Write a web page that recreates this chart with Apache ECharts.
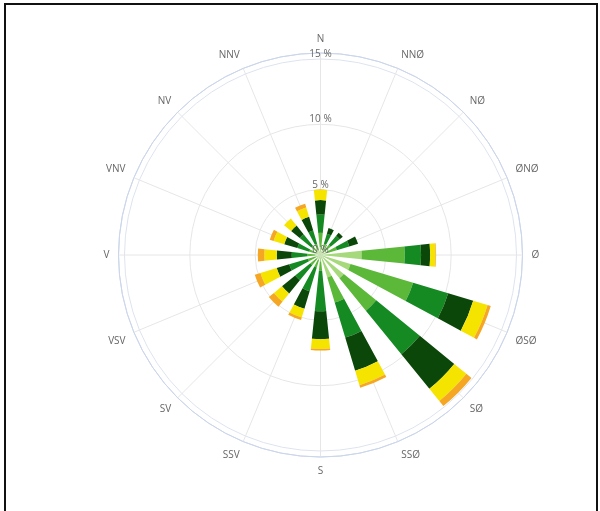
<!DOCTYPE html>
<html>
<head>
<meta charset="utf-8">
<script src="https://cdn.jsdelivr.net/npm/echarts@6/dist/echarts.min.js"></script>
<style>
html,body{margin:0;padding:0;background:#fff;overflow:hidden;}
#frame{position:absolute;left:4px;top:3px;width:590px;height:520px;border:2px solid #111;border-bottom:none;}
#chart{position:absolute;left:0;top:0;width:600px;height:511px;}
</style>
</head>
<body>
<div id="frame"></div>
<div id="chart"></div>
<script>
const directions = ['N','NNØ','NØ','ØNØ','Ø','ØSØ','SØ','SSØ','S','SSV','SV','VSV','V','VNV','NV','NNV'];
const radiusTicks = [0, 5, 10, 15];
const speedPale   = [0.6,0.4,0.4,0.5,3.15,2.4,2.3,1.8,0.5,0.4,0.4,0.4,0.4,0.4,0.4,0.4];
const speedLight  = [1.1,0.5,0.6,0.8,3.3,5.0,3.2,2.0,0.7,0.6,0.6,0.6,0.6,0.5,0.5,0.5];
const speedGreen  = [1.4,0.8,0.9,1.0,1.25,2.8,4.3,2.8,3.1,1.9,1.5,1.5,1.2,0.95,1.15,1.05];
const speedDark   = [1.1,0.45,0.3,0.7,0.7,2.0,3.4,2.65,2.15,1.4,1.3,1.0,1.15,1.05,0.85,1.1];
const speedYellow = [0.8,0,0,0,0.4,1.15,1.2,1.15,0.75,0.7,0.8,1.3,0.95,0.85,0.7,0.75];
const speedOrange = [0,0,0,0,0.05,0.25,0.5,0.2,0.1,0.2,0.5,0.45,0.5,0.3,0,0.3];

const colors = ['#a6d97c','#5cb838','#158a22','#0b4708','#f5e400','#f5a623'];
const seriesData = [speedPale, speedLight, speedGreen, speedDark, speedYellow, speedOrange];
const RMAX = 15.46;
const center = [320.5, 255];
const radius = 202;
const font = '"Open Sans", "Noto Sans", sans-serif';

const chart = echarts.init(document.getElementById('chart'), null, {renderer: 'canvas'});
chart.setOption({
  animation: false,
  polar: [
    {center: center, radius: radius},
    {center: center, radius: radius}
  ],
  angleAxis: [
    {
      polarIndex: 0, type: 'category', data: directions,
      startAngle: 90 + 180 / directions.length, clockwise: true,
      boundaryGap: true,
      axisLine: {show: true, lineStyle: {color: '#ccd6eb', width: 1}},
      axisTick: {show: false},
      splitLine: {show: false},
      axisLabel: {show: true, margin: 9, color: '#666', fontSize: 10, fontFamily: font}
    },
    {
      polarIndex: 1, type: 'value', min: 0, max: 360, interval: 360 / directions.length,
      startAngle: 90, clockwise: true,
      axisLine: {show: false}, axisTick: {show: false}, axisLabel: {show: false},
      splitLine: {show: true, lineStyle: {color: '#e6e6e6', width: 1}},
      z: 0
    }
  ],
  radiusAxis: [
    {
      polarIndex: 0, type: 'value', min: 0, max: RMAX, interval: 5,
      axisLine: {show: false}, axisTick: {show: false}, axisLabel: {show: false},
      splitLine: {show: true, lineStyle: {color: ['#e6e6e6','#e6e6e6','#e6e6e6','#dde3ef','#ccd6eb'], width: 1}},
      z: 0
    },
    {
      polarIndex: 1, type: 'value', min: 0, max: RMAX, interval: 5,
      axisLine: {show: false}, axisTick: {show: false},
      splitLine: {show: false},
      axisLabel: {
        show: true, margin: 0, align: 'center', verticalAlign: 'bottom',
        color: '#666', fontSize: 10, fontFamily: font,
        formatter: function (v) { return radiusTicks.indexOf(v) >= 0 ? v + ' %' : ''; }
      },
      z: 10
    }
  ],
  series: seriesData.map(function (d, i) {
    return {
      type: 'bar', coordinateSystem: 'polar', polarIndex: 0,
      stack: 'wind', data: d, barWidth: '52%',
      itemStyle: {color: colors[i]},
      z: 2
    };
  })
});
</script>
</body>
</html>
